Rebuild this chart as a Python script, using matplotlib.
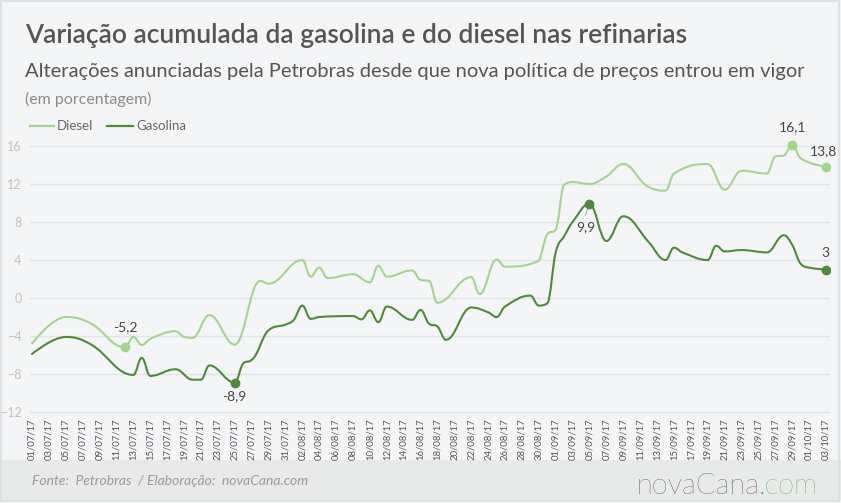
import datetime as dt

import matplotlib.pyplot as plt
import matplotlib.dates as mdates
from matplotlib.path import Path
from matplotlib.patches import PathPatch, Rectangle

# dias contados a partir de 01/07/17
inicio = dt.date(2017, 7, 1)

dias_diesel = [0, 4, 7, 11, 12, 13, 14, 17, 18, 19, 21, 24, 27, 28, 32, 33, 34, 35, 38,
               40, 41, 42, 45, 46, 47, 48, 52, 53, 55, 56, 60, 61, 62, 63, 64, 66, 68,
               70, 73, 75, 76, 80, 82, 84, 87, 88, 89, 90, 91, 94]
diesel = [-4.8, -2.0, -2.7, -5.2, -4.1, -4.95, -4.3, -3.5, -4.1, -4.2, -1.8, -4.9, 1.8,
          1.5, 4.0, 2.25, 3.2, 2.1, 2.5, 1.65, 3.4, 2.25, 2.9, 1.9, 1.8, -0.5, 2.2, 0.4,
          4.05, 3.3, 3.9, 6.7, 7.2, 11.9, 12.2, 12.0, 12.8, 14.1, 11.7, 11.3, 13.1, 14.1,
          11.4, 13.4, 13.1, 14.9, 15.0, 16.1, 14.7, 13.8]

dias_gasolina = [0, 4, 7, 12, 13, 14, 17, 19, 20, 21, 24, 25, 26, 28, 30, 31, 32, 33, 34,
                 38, 39, 40, 41, 42, 45, 46, 47, 48, 49, 52, 54, 55, 56, 59, 60, 61, 62,
                 63, 64, 66, 68, 70, 73, 75, 76, 77, 80, 81, 82, 84, 87, 89, 90, 91, 92, 94]
gasolina = [-5.9, -4.1, -4.9, -8.1, -6.3, -8.2, -7.5, -8.6, -8.6, -7.1, -8.9, -6.9, -6.5,
            -3.4, -2.8, -2.3, -0.8, -2.2, -2.0, -1.9, -2.25, -1.3, -2.55, -0.9, -2.3,
            -1.26, -2.7, -3.0, -4.4, -1.0, -1.5, -2.0, -0.9, 0.25, -0.8, -0.56, 4.8, 6.5,
            8.0, 9.9, 6.0, 8.6, 5.9, 4.0, 5.3, 4.8, 4.0, 5.5, 4.9, 5.05, 4.8, 6.6, 5.6,
            3.6, 3.2, 3.0]

# (dia, texto, deslocamento em pontos)
rotulos_diesel = [(11, "-5,2", (0, 14.5)), (90, "16,1", (0, 13)), (94, "13,8", (-1.5, 11.5))]
rotulos_gasolina = [(24, "-8,9", (0, -10)), (66, "9,9", (-3, -16.5)), (94, "3", (-0.5, 12))]

cor_diesel = "#a5d48e"
cor_gasolina = "#4f8a3b"


def datas(dias):
    return [mdates.date2num(inicio + dt.timedelta(days=d)) for d in dias]


def spline_path(xs, ys, s=1.5):
    # curva tipo "spline" do Highcharts
    n = len(xs)
    left, right = [], []
    for i in range(n):
        x, y = xs[i], ys[i]
        if i == 0 or i == n - 1:
            left.append((x, y))
            right.append((x, y))
            continue
        lx, ly = xs[i - 1], ys[i - 1]
        nx, ny = xs[i + 1], ys[i + 1]
        lcx, lcy = (s * x + lx) / (s + 1), (s * y + ly) / (s + 1)
        rcx, rcy = (s * x + nx) / (s + 1), (s * y + ny) / (s + 1)
        corr = ((rcy - lcy) * (rcx - x)) / (rcx - lcx) + y - rcy
        lcy += corr
        rcy += corr
        if lcy > ly and lcy > y:
            lcy = max(ly, y)
            rcy = 2 * y - lcy
        elif lcy < ly and lcy < y:
            lcy = min(ly, y)
            rcy = 2 * y - lcy
        if rcy > ny and rcy > y:
            rcy = max(ny, y)
            lcy = 2 * y - rcy
        elif rcy < ny and rcy < y:
            rcy = min(ny, y)
            lcy = 2 * y - rcy
        left.append((lcx, lcy))
        right.append((rcx, rcy))
    verts = [(xs[0], ys[0])]
    codes = [Path.MOVETO]
    for i in range(1, n):
        verts += [right[i - 1], left[i], (xs[i], ys[i])]
        codes += [Path.CURVE4] * 3
    return Path(verts, codes)


plt.rcParams['font.family'] = ['Lato', 'DejaVu Sans']

W, H = 841, 503
fig = plt.figure(figsize=(W / 100, H / 100), dpi=100)
fig.patch.set_facecolor("#f4f5f7")

# rodapé
fig.patches.append(Rectangle((0, 3 / H), 1, 40 / H, transform=fig.transFigure,
                             facecolor="#e8e9e9", edgecolor="none", zorder=-2))
fig.patches.append(Rectangle((0.5 / W, 2 / H), (W - 3) / W, (H - 3) / H,
                             transform=fig.transFigure, facecolor="none",
                             edgecolor="#dcdedf", lw=1.2, zorder=-1))

px_dia = 794 / 94
x0 = mdates.date2num(inicio)
ax_l, ax_r = 30, 830
y_top, y_bot = 140.3, 413.9
ax = fig.add_axes([ax_l / W, (H - y_bot) / H, (ax_r - ax_l) / W, (y_bot - y_top) / H])
ax.set_facecolor("none")
ax.set_xlim(x0 - 2 / px_dia, x0 + 94 + 4 / px_dia)
ax.set_ylim(-12.2, 16.6)
for sp in ax.spines.values():
    sp.set_visible(False)

ax.set_yticks(range(-12, 17, 4))
ax.grid(axis="y", color="#e3e4e6", lw=1)
ax.set_axisbelow(True)
ax.tick_params(axis="y", length=0, pad=6, labelsize=9, labelcolor="#c2c2c2")

ticks = datas(range(0, 95, 2))
ax.set_xticks(ticks)
ax.xaxis.set_major_formatter(mdates.DateFormatter("%d/%m/%y"))
ax.tick_params(axis="x", length=0, pad=3, labelsize=6.8, labelcolor="#555555",
               labelrotation=90)

for dias, vals, cor, rot in [(dias_diesel, diesel, cor_diesel, rotulos_diesel),
                             (dias_gasolina, gasolina, cor_gasolina, rotulos_gasolina)]:
    xs = datas(dias)
    ax.add_patch(PathPatch(spline_path(xs, vals), facecolor="none", edgecolor=cor,
                           lw=1.5, capstyle="round", joinstyle="round", zorder=3))
    for d, txt, off in rot:
        v = vals[dias.index(d)]
        xd = datas([d])[0]
        ax.plot([xd], [v], "o", color=cor, ms=6, zorder=4)
        if txt == "9,9":
            ax.annotate("", xy=(xd, v), xytext=(-3.6, -10), textcoords="offset points",
                        arrowprops=dict(arrowstyle="-", color="#aaaaaa", lw=0.8))
        ax.annotate(txt, (xd, v), xytext=off, textcoords="offset points",
                    ha="center", va="center", fontsize=10, color="#444444", zorder=5)

# títulos
fig.text(25 / W, 1 - 35 / H, "Variação acumulada da gasolina e do diesel nas refinarias",
         fontsize=19, color="#555555", va="center", ha="left", weight="semibold")
fig.text(25 / W, 1 - 71 / H,
         "Alterações anunciadas pela Petrobras desde que nova política de preços entrou em vigor",
         fontsize=14.5, color="#555555", va="center", ha="left")
fig.text(25 / W, 1 - 99 / H, "(em porcentagem)", fontsize=11.5, color="#8a8a8a",
         va="center", ha="left")

# legenda
for x1, x2, cor, nome in [(30, 54, cor_diesel, "Diesel"), (107, 133, cor_gasolina, "Gasolina")]:
    fig.add_artist(plt.Line2D([x1 / W, x2 / W], [1 - 126 / H] * 2, color=cor, lw=1.6))
    fig.text((x2 + 3) / W, 1 - 126 / H, nome, fontsize=9.5, color="#666666",
             va="center", ha="left")

fig.text(32 / W, 1 - 481 / H, "Fonte:  Petrobras  / Elaboração:  novaCana.com",
         fontsize=10, color="#9a9a9a", style="italic", va="center", ha="left")

r = fig.canvas.get_renderer()
t1 = fig.text(636 / W, 1 - 486 / H, "novaCana", fontsize=21, color="#222222",
              va="center", ha="left", weight="light")
w1 = t1.get_window_extent(renderer=r).width
fig.text((636 + w1) / W, 1 - 486 / H, ".com", fontsize=21, color="#2e9a3a",
         va="center", ha="left", weight="light")

fig.savefig("out.png", dpi=100, facecolor=fig.get_facecolor())
